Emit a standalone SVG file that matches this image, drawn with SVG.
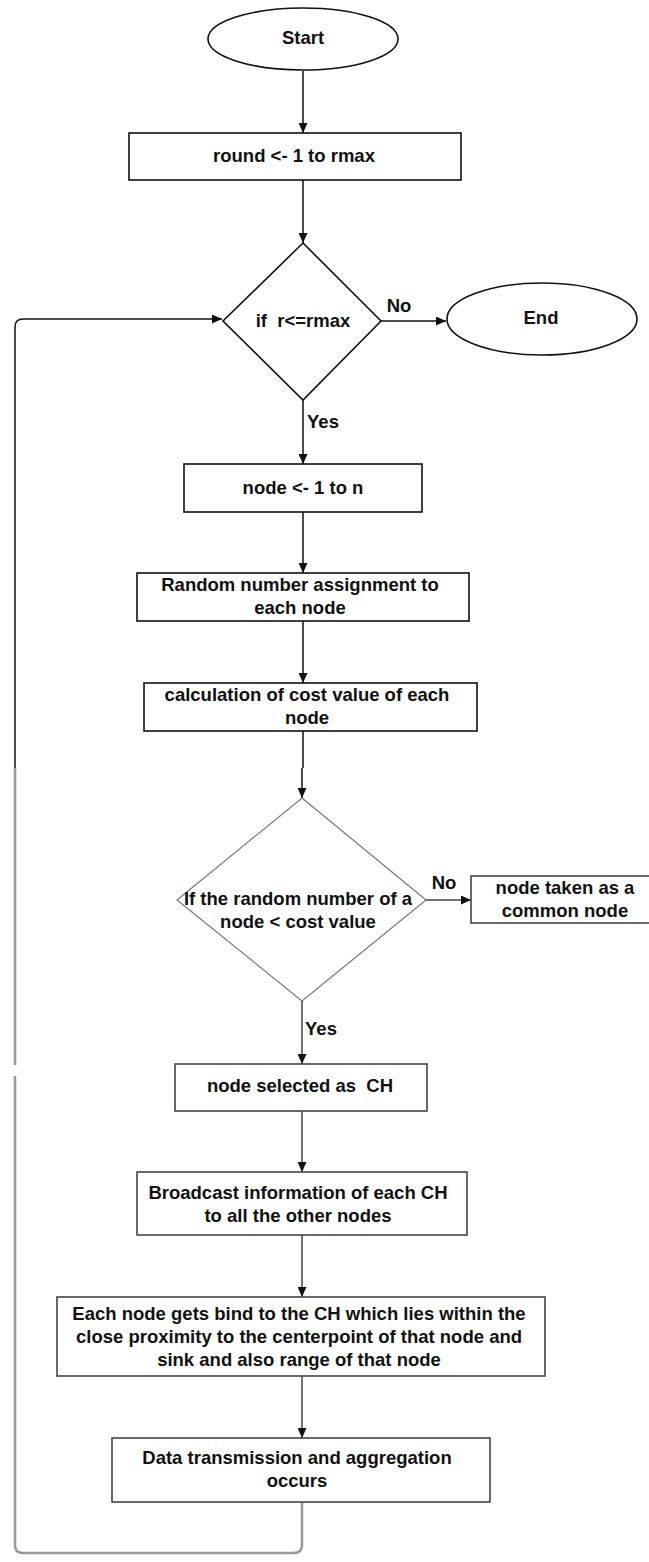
<svg xmlns="http://www.w3.org/2000/svg" width="649" height="1562" viewBox="0 0 649 1562">
<style>
text{font-family:"Liberation Sans",Arial,sans-serif;font-weight:bold;font-size:18.5px;fill:#111;text-anchor:middle;dominant-baseline:central;white-space:pre}
.shape{fill:#fff;stroke:#111;stroke-width:1.6}
.shape2{fill:#fff;stroke:#444;stroke-width:1.6}
.dia2{fill:#fff;stroke:#777;stroke-width:1.2}
.conn{fill:none;stroke:#111;stroke-width:1.5}
.conn2{fill:none;stroke:#444;stroke-width:1.5}
.loop2{fill:none;stroke:#999;stroke-width:2.5}
</style>
<defs>
<marker id="ah" viewBox="0 0 10 10" refX="10" refY="5" markerWidth="10" markerHeight="9" markerUnits="userSpaceOnUse" orient="auto" preserveAspectRatio="none">
<path d="M0,0 L10,5 L0,10 z" fill="#111"/>
</marker>
</defs>
<rect width="649" height="1562" fill="#fff"/>
<g id="connectors">
<line class="conn" x1="303" y1="71" x2="303" y2="133" marker-end="url(#ah)"/>
<line class="conn" x1="303" y1="180" x2="303" y2="243" marker-end="url(#ah)"/>
<line class="conn" x1="381" y1="321" x2="446" y2="321" marker-end="url(#ah)"/>
<line class="conn" x1="303" y1="400" x2="303" y2="464" marker-end="url(#ah)"/>
<line class="conn" x1="303" y1="512" x2="303" y2="573" marker-end="url(#ah)"/>
<line class="conn" x1="303" y1="621" x2="303" y2="683" marker-end="url(#ah)"/>
<line class="conn" x1="303" y1="731" x2="303" y2="768"/>
<line class="conn" x1="302" y1="768" x2="302" y2="798" marker-end="url(#ah)"/>
<line class="conn2" x1="426" y1="900" x2="471" y2="900" marker-end="url(#ah)"/>
<line class="conn2" x1="302" y1="1001" x2="302" y2="1064" marker-end="url(#ah)"/>
<line class="conn2" x1="302" y1="1111" x2="302" y2="1172" marker-end="url(#ah)"/>
<line class="conn2" x1="302" y1="1235" x2="302" y2="1297" marker-end="url(#ah)"/>
<line class="conn2" x1="302" y1="1376" x2="302" y2="1438" marker-end="url(#ah)"/>
<path class="loop2" d="M302,1502 L302,1545 Q302,1553 294,1553 L23,1553 Q15,1553 15,1545 L15,1076"/>
<path class="loop2" d="M15,1065 L15,768"/>
<path class="conn" d="M15,768 L15,327 Q15,319 23,319 L222,319" marker-end="url(#ah)"/>
<text x="399" y="305">No</text>
<text x="323" y="421">Yes</text>
<text x="444" y="882">No</text>
<text x="321" y="1028">Yes</text>
</g>
<g id="start">
<ellipse class="shape" cx="303" cy="39" rx="95" ry="31"/>
<text x="303" y="37">Start</text>
</g>
<g id="round">
<rect class="shape" x="129" y="133" width="332" height="47"/>
<text x="294" y="155">round &lt;- 1 to rmax</text>
</g>
<g id="decision1">
<polygon class="shape" points="303,243 381,321 303,400 223,321"/>
<text x="303" y="320">if  r&lt;=rmax</text>
</g>
<g id="end">
<ellipse class="shape" cx="542" cy="319" rx="95" ry="36"/>
<text x="541" y="317">End</text>
</g>
<g id="nodeloop">
<rect class="shape" x="184" y="464" width="238" height="48"/>
<text x="303" y="487">node &lt;- 1 to n</text>
</g>
<g id="random">
<rect class="shape" x="137" y="573" width="332" height="48"/>
<text x="300" y="584">Random number assignment to</text>
<text x="300" y="607">each node</text>
</g>
<g id="cost">
<rect class="shape" x="144" y="683" width="333" height="48"/>
<text x="307" y="694">calculation of cost value of each</text>
<text x="307" y="717">node</text>
</g>
<g id="decision2">
<polygon class="dia2" points="302,798 426,900 302,1001 177,900"/>
<text x="298" y="898">If the random number of a</text>
<text x="298" y="921">node &lt; cost value</text>
</g>
<g id="common">
<rect class="shape2" x="471" y="876" width="185" height="47"/>
<text x="565" y="887">node taken as a</text>
<text x="565" y="910">common node</text>
</g>
<g id="selected">
<rect class="shape2" x="175" y="1064" width="252" height="47"/>
<text x="300" y="1085">node selected as  CH</text>
</g>
<g id="broadcast">
<rect class="shape2" x="137" y="1172" width="330" height="63"/>
<text x="298" y="1192">Broadcast information of each CH</text>
<text x="298" y="1215">to all the other nodes</text>
</g>
<g id="bind">
<rect class="shape2" x="57" y="1297" width="488" height="79"/>
<text x="299" y="1313">Each node gets bind to the CH which lies within the</text>
<text x="299" y="1336">close proximity to the centerpoint of that node and</text>
<text x="299" y="1359">sink and also range of that node</text>
</g>
<g id="data">
<rect class="shape2" x="112" y="1438" width="378" height="64"/>
<text x="297" y="1457">Data transmission and aggregation</text>
<text x="297" y="1480">occurs</text>
</g>
</svg>
